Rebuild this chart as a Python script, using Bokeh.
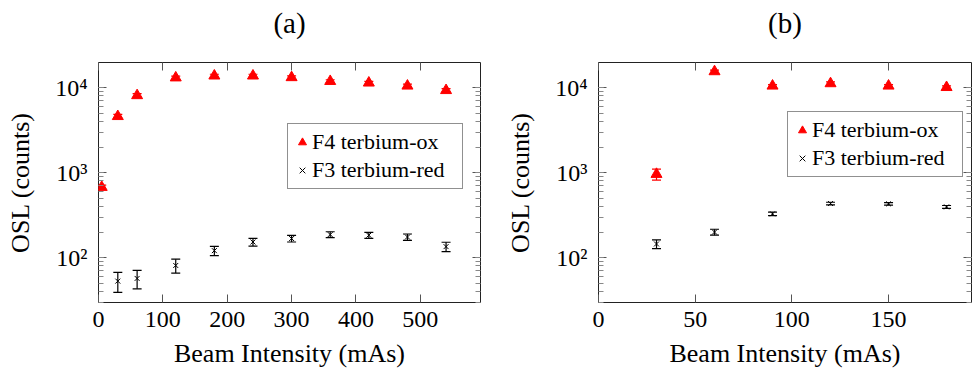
from bokeh.plotting import figure
from bokeh.layouts import row
from bokeh.models import (ColumnDataSource, Whisker, TeeHead, Legend, LegendItem,
                          LogAxis, LinearAxis, LogTicker, FixedTicker,
                          CustomJSTickFormatter, Range1d)
from bokeh.embed import file_html
from bokeh.resources import INLINE

# ---------------- data ----------------
# panel (a)
a_x_ox = [5, 30, 60, 120, 180, 240, 300, 360, 420, 480, 540]
a_ox = [675, 4600, 8100, 13100, 13800, 13800, 13200, 11900, 11400, 10500, 9300]
a_ox_err = [40, 250, 400, 600, 600, 600, 600, 500, 500, 500, 450]
a_x_red = [30, 60, 120, 180, 240, 300, 360, 420, 480, 540]
a_red = [53, 57, 81, 121, 153, 168, 187, 184, 175, 135]
a_red_err = [14, 14, 15, 15, 16, 15, 15, 15, 15, 17]

# panel (b)
b_x_ox = [30, 60, 90, 120, 150, 180]
b_ox = [960, 15500, 10500, 11200, 10500, 10100]
b_ox_err = [140, 600, 400, 500, 400, 400]
b_x_red = [30, 60, 90, 120, 150, 180]
b_red = [145, 200, 328, 434, 430, 396]
b_red_err = [17, 16, 15, 15, 15, 15]

a_xticks = [0, 100, 200, 300, 400, 500]
b_xticks = [0, 50, 100, 150]
titles = ["(a)", "(b)"]
series_names = ["F4 terbium-ox", "F3 terbium-red"]
x_label = "Beam Intensity (mAs)"
y_label = "OSL (counts)"

FONT = "Liberation Serif"
FRAME = "#222222"
TICK = "#555555"
MINOR = "#888888"

sup_fmt = CustomJSTickFormatter(code="""
const e = Math.round(Math.log10(tick));
const s = {0:"\u2070", 1:"\u00b9", 2:"\u00b2", 3:"\u00b3", 4:"\u2074", 5:"\u2075"};
return "10" + s[e];
""")
blank_fmt = CustomJSTickFormatter(code="return '';")


def style_axis(ax, labels=True):
    ax.axis_line_color = None
    ax.major_tick_in = 8
    ax.major_tick_out = 0
    ax.major_tick_line_color = TICK
    ax.major_tick_line_width = 1
    ax.minor_tick_line_color = MINOR
    ax.minor_tick_line_width = 1
    ax.major_label_text_font = FONT
    ax.major_label_text_color = "black"
    ax.axis_label_text_font = FONT
    ax.axis_label_text_font_style = "normal"
    ax.axis_label_text_color = "black"
    if not labels:
        ax.major_label_text_font_size = "1px"
        ax.major_label_standoff = 0


def make_panel(title, x_ox, ox, ox_err, x_red, red, red_err, xmax, xticks,
               width, b_left, b_right, leg_loc):
    p = figure(width=width, height=370, y_axis_type="log",
               x_range=Range1d(0, xmax), y_range=Range1d(29.7, 19800),
               output_backend="svg", toolbar_location=None,
               min_border_left=b_left, min_border_right=b_right,
               min_border_top=62, min_border_bottom=67)
    p.grid.visible = False
    p.outline_line_color = FRAME
    p.outline_line_width = 1
    p.background_fill_color = "white"
    p.border_fill_color = "white"

    # bottom axis
    xa = p.xaxis[0]
    xa.ticker = FixedTicker(ticks=xticks)
    style_axis(xa)
    xa.minor_tick_in = 0
    xa.minor_tick_out = 0
    xa.major_label_text_font_size = "24px"
    xa.major_label_standoff = 9
    xa.axis_label = x_label
    xa.axis_label_text_font_size = "26px"
    xa.axis_label_standoff = 9

    # left axis
    ya = p.yaxis[0]
    ya.ticker = LogTicker(num_minor_ticks=10)
    ya.formatter = sup_fmt
    style_axis(ya)
    ya.minor_tick_in = 5
    ya.minor_tick_out = 0
    ya.major_label_text_font_size = "24px"
    ya.major_label_standoff = 11
    ya.axis_label = y_label
    ya.axis_label_text_font_size = "26px"
    ya.axis_label_standoff = 17

    # mirrored axes; the top one carries the panel title "(a)" / "(b)"
    top = LinearAxis(ticker=FixedTicker(ticks=xticks), formatter=blank_fmt)
    style_axis(top, labels=False)
    top.minor_tick_in = 0
    top.minor_tick_out = 0
    top.axis_label = title
    top.axis_label_text_font_size = "29px"
    top.axis_label_standoff = 24
    p.add_layout(top, "above")
    right = LogAxis(ticker=LogTicker(num_minor_ticks=10), formatter=blank_fmt)
    style_axis(right, labels=False)
    right.minor_tick_in = 5
    right.minor_tick_out = 0
    p.add_layout(right, "right")

    # data
    s_ox = ColumnDataSource(dict(x=x_ox, y=ox,
                                 lo=[v - e for v, e in zip(ox, ox_err)],
                                 hi=[v + e for v, e in zip(ox, ox_err)]))
    s_red = ColumnDataSource(dict(x=x_red, y=red,
                                  lo=[v - e for v, e in zip(red, red_err)],
                                  hi=[v + e for v, e in zip(red, red_err)]))
    w1 = Whisker(source=s_ox, base="x", upper="hi", lower="lo", dimension="height",
                 line_color="red", line_width=1.2,
                 upper_head=TeeHead(size=9, line_color="red", line_width=1.2),
                 lower_head=TeeHead(size=9, line_color="red", line_width=1.2))
    w2 = Whisker(source=s_red, base="x", upper="hi", lower="lo", dimension="height",
                 line_color="black", line_width=1.2,
                 upper_head=TeeHead(size=9, line_color="black", line_width=1.2),
                 lower_head=TeeHead(size=9, line_color="black", line_width=1.2))
    p.add_layout(w1)
    p.add_layout(w2)
    r1 = p.scatter("x", "y", source=s_ox, marker="triangle", size=11,
                   fill_color="red", line_color="red")
    r2 = p.scatter("x", "y", source=s_red, marker="x", size=7,
                   line_color="black", line_width=1)

    leg = Legend(items=[LegendItem(label=series_names[0], renderers=[r1]),
                        LegendItem(label=series_names[1], renderers=[r2])],
                 location=leg_loc)
    leg.label_text_font = FONT
    leg.label_text_font_size = "22px"
    leg.label_text_color = "black"
    leg.padding = 4
    leg.spacing = 0
    leg.margin = 0
    leg.glyph_width = 20
    leg.glyph_height = 28
    leg.label_height = 28
    leg.label_width = 146
    leg.label_standoff = 0
    leg.border_line_color = FRAME
    leg.border_line_width = 1
    leg.background_fill_alpha = 1
    p.add_layout(leg, "center")
    return p


p1 = make_panel(titles[0], a_x_ox, a_ox, a_ox_err, a_x_red, a_red, a_red_err,
                593.5, a_xticks, 500, 98, 20, (189, 113))
p2 = make_panel(titles[1], b_x_ox, b_ox, b_ox_err, b_x_red, b_red, b_red_err,
                192.9, b_xticks, 472, 98, 1, (189, 125))

layout = row(p1, p2)
open("out.html", "w").write(file_html(layout, INLINE))
